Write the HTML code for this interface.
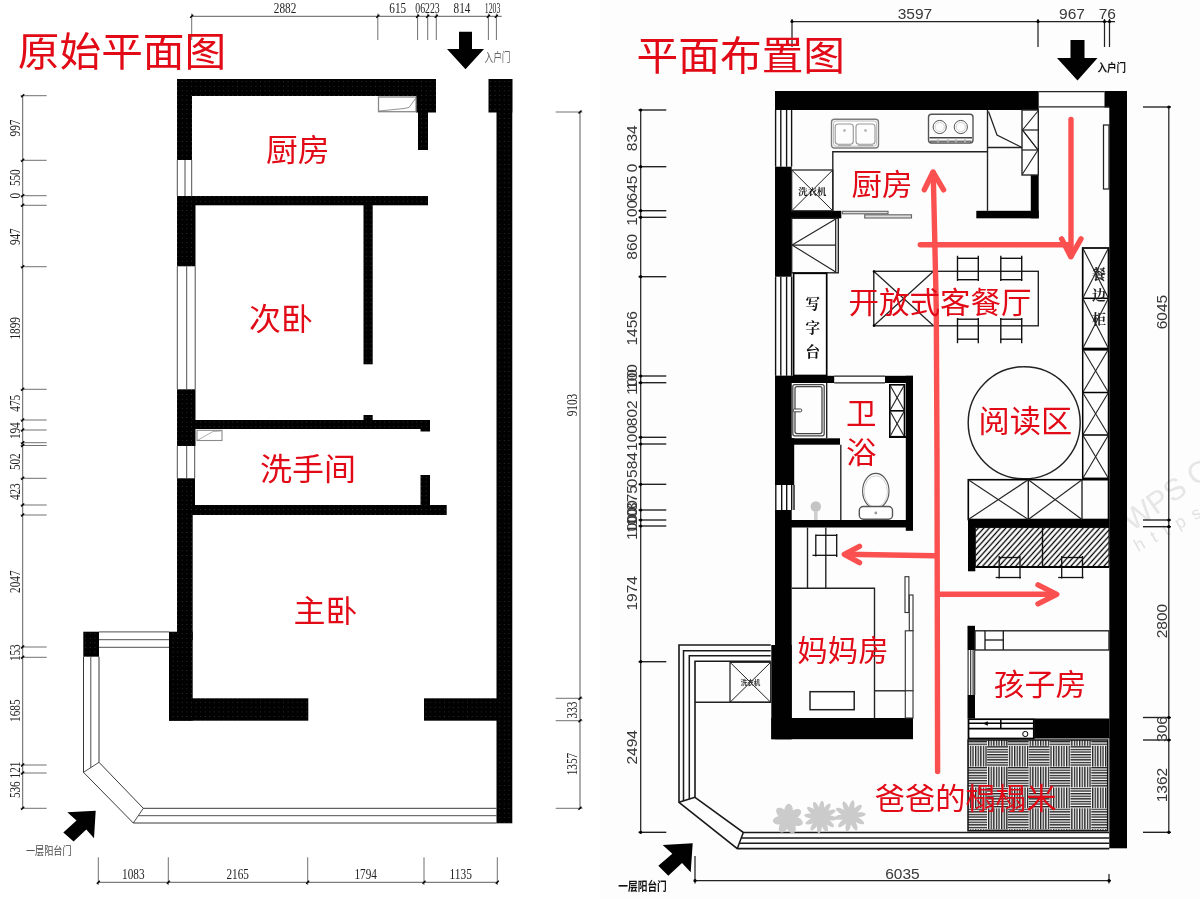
<!DOCTYPE html>
<html lang="zh-CN">
<head>
<meta charset="utf-8">
<title>原始平面图 / 平面布置图</title>
<style>
html,body{margin:0;padding:0;background:#fff;}
body{width:1200px;height:899px;overflow:hidden;}
svg{display:block;}
text{font-family:"Liberation Sans","Noto Sans CJK SC",sans-serif;}
.cn{font-family:"Liberation Sans","Noto Sans CJK SC",sans-serif;}
.sf{font-family:"Liberation Serif","Noto Serif CJK SC",serif;}
.kb{font-family:"Liberation Serif","Noto Serif CJK SC",serif;font-weight:700;}
.sb{font-family:"Liberation Sans","Noto Sans CJK SC",sans-serif;font-weight:700;}
</style>
</head>
<body>
<svg width="1200" height="899" viewBox="0 0 1200 899">
<defs>
<pattern id="hatch" patternUnits="userSpaceOnUse" width="4.1" height="4.1" patternTransform="rotate(42)">
<rect width="4.1" height="4.1" fill="#fff"/><line x1="2.05" y1="-1" x2="2.05" y2="5.1" stroke="#000" stroke-width="1.3"/>
</pattern>
<pattern id="wd" patternUnits="userSpaceOnUse" width="4.6" height="4.6" x="0.6" y="1.2"><rect width="4.6" height="4.6" fill="#000"/><circle cx="2.3" cy="2.3" r="0.55" fill="#3a3a3a"/></pattern>
<pattern id="vs" patternUnits="userSpaceOnUse" width="2.6" height="2.6">
<rect width="2.6" height="2.6" fill="#fff"/><rect width="1.35" height="2.6" fill="#222"/>
</pattern>
<pattern id="hs" patternUnits="userSpaceOnUse" width="2.6" height="2.6">
<rect width="2.6" height="2.6" fill="#fff"/><rect width="2.6" height="1.35" fill="#222"/>
</pattern>
</defs>
<rect width="1200" height="899" fill="#fff"/>
<g opacity="0.999">

<g id="left-plan">
<rect x="177.0" y="79.0" width="259.0" height="17.0" fill="url(#wd)" />
<rect x="177.0" y="79.0" width="15.0" height="81.0" fill="url(#wd)" />
<rect x="416.0" y="79.0" width="20.0" height="33.5" fill="url(#wd)" />
<rect x="418.0" y="112.0" width="10.0" height="38.0" fill="url(#wd)" />
<rect x="488.5" y="79.0" width="23.8" height="33.5" fill="url(#wd)" />
<rect x="496.5" y="79.0" width="15.8" height="744.3" fill="url(#wd)" />
<rect x="177.0" y="196.0" width="251.0" height="9.3" fill="url(#wd)" />
<rect x="177.0" y="196.0" width="18.5" height="70.3" fill="url(#wd)" />
<rect x="363.5" y="205.0" width="9.2" height="159.3" fill="url(#wd)" />
<rect x="177.0" y="389.3" width="18.5" height="56.7" fill="url(#wd)" />
<rect x="195.0" y="420.0" width="235.0" height="9.0" fill="url(#wd)" />
<rect x="363.5" y="415.0" width="9.2" height="6.0" fill="url(#wd)" />
<rect x="420.5" y="428.0" width="9.5" height="3.5" fill="url(#wd)" />
<rect x="177.0" y="478.3" width="18.0" height="36.7" fill="url(#wd)" />
<rect x="177.0" y="515.0" width="15.7" height="125.0" fill="url(#wd)" />
<rect x="420.5" y="475.0" width="9.5" height="31.0" fill="url(#wd)" />
<rect x="192.0" y="505.0" width="254.7" height="10.0" fill="url(#wd)" />
<rect x="169.0" y="631.7" width="23.7" height="89.0" fill="url(#wd)" />
<rect x="169.0" y="698.3" width="139.3" height="22.4" fill="url(#wd)" />
<rect x="424.0" y="698.3" width="73.0" height="22.4" fill="url(#wd)" />
<rect x="83.3" y="631.7" width="15.7" height="25.0" fill="url(#wd)" />
<line x1="177.3" y1="160.0" x2="177.3" y2="196.0" stroke="#222" stroke-width="0.8" />
<line x1="185.0" y1="160.0" x2="185.0" y2="196.0" stroke="#222" stroke-width="0.8" />
<line x1="191.7" y1="160.0" x2="191.7" y2="196.0" stroke="#222" stroke-width="0.8" />
<line x1="177.3" y1="266.3" x2="177.3" y2="389.3" stroke="#222" stroke-width="0.8" />
<line x1="186.7" y1="266.3" x2="186.7" y2="389.3" stroke="#222" stroke-width="0.8" />
<line x1="195.2" y1="266.3" x2="195.2" y2="389.3" stroke="#222" stroke-width="0.8" />
<line x1="177.3" y1="446.0" x2="177.3" y2="478.3" stroke="#222" stroke-width="0.8" />
<line x1="186.7" y1="446.0" x2="186.7" y2="478.3" stroke="#222" stroke-width="0.8" />
<line x1="194.7" y1="446.0" x2="194.7" y2="478.3" stroke="#222" stroke-width="0.8" />
<rect x="378.5" y="97.0" width="37.5" height="14.7" fill="none" stroke="#8a8a8a" stroke-width="1.3" />
<path d="M379 111 L404 108.5 L409 107.5 L415.5 98.5" fill="none" stroke="#666" stroke-width="0.7" />
<rect x="197.0" y="430.3" width="25.0" height="10.2" fill="none" stroke="#8a8a8a" stroke-width="1.1" />
<path d="M198 440 L213 431.5 L221 431" fill="none" stroke="#777" stroke-width="0.6" />
<line x1="99.0" y1="631.9" x2="169.0" y2="631.9" stroke="#222" stroke-width="0.8" />
<line x1="99.0" y1="639.7" x2="169.0" y2="639.7" stroke="#222" stroke-width="0.8" />
<line x1="99.0" y1="647.3" x2="169.0" y2="647.3" stroke="#222" stroke-width="0.8" />
<path d="M83.5 656.7 L83.5 772.3 L133.3 823 L496.5 823" fill="none" stroke="#222" stroke-width="0.9" />
<line x1="90.8" y1="656.7" x2="90.8" y2="767.5" stroke="#222" stroke-width="0.8" />
<line x1="138.5" y1="815.7" x2="496.5" y2="815.7" stroke="#222" stroke-width="0.8" />
<path d="M99 656.7 L99 762.3 L143.3 808.3 L496.5 808.3" fill="none" stroke="#222" stroke-width="0.9" />
<line x1="83.5" y1="772.3" x2="99.0" y2="762.3" stroke="#222" stroke-width="0.8" />
<line x1="133.3" y1="823.0" x2="143.3" y2="808.3" stroke="#222" stroke-width="0.8" />
<line x1="191.7" y1="16.3" x2="501.7" y2="16.3" stroke="#333" stroke-width="0.8" />
<line x1="191.7" y1="13.5" x2="191.7" y2="40.0" stroke="#333" stroke-width="0.7" />
<line x1="190.2" y1="17.8" x2="193.2" y2="14.8" stroke="#000" stroke-width="1.4" />
<line x1="377.8" y1="13.5" x2="377.8" y2="40.0" stroke="#333" stroke-width="0.7" />
<line x1="376.3" y1="17.8" x2="379.3" y2="14.8" stroke="#000" stroke-width="1.4" />
<line x1="417.6" y1="13.5" x2="417.6" y2="40.0" stroke="#333" stroke-width="0.7" />
<line x1="416.1" y1="17.8" x2="419.1" y2="14.8" stroke="#000" stroke-width="1.4" />
<line x1="427.7" y1="13.5" x2="427.7" y2="40.0" stroke="#333" stroke-width="0.7" />
<line x1="426.2" y1="17.8" x2="429.2" y2="14.8" stroke="#000" stroke-width="1.4" />
<line x1="436.3" y1="13.5" x2="436.3" y2="40.0" stroke="#333" stroke-width="0.7" />
<line x1="434.8" y1="17.8" x2="437.8" y2="14.8" stroke="#000" stroke-width="1.4" />
<line x1="488.4" y1="13.5" x2="488.4" y2="40.0" stroke="#333" stroke-width="0.7" />
<line x1="486.9" y1="17.8" x2="489.9" y2="14.8" stroke="#000" stroke-width="1.4" />
<line x1="496.4" y1="13.5" x2="496.4" y2="40.0" stroke="#333" stroke-width="0.7" />
<line x1="494.9" y1="17.8" x2="497.9" y2="14.8" stroke="#000" stroke-width="1.4" />
<text x="285.0" y="13.0" font-size="15.5" fill="#222" text-anchor="middle" class="sf" textLength="22.5" lengthAdjust="spacingAndGlyphs">2882</text>
<text x="397.7" y="13.0" font-size="15.5" fill="#222" text-anchor="middle" class="sf" textLength="16.8" lengthAdjust="spacingAndGlyphs">615</text>
<text x="427.5" y="13.0" font-size="15.5" fill="#222" text-anchor="middle" class="sf" textLength="24.5" lengthAdjust="spacingAndGlyphs">06223</text>
<text x="462.0" y="13.0" font-size="15.5" fill="#222" text-anchor="middle" class="sf" textLength="16.8" lengthAdjust="spacingAndGlyphs">814</text>
<text x="492.5" y="13.0" font-size="15.5" fill="#222" text-anchor="middle" class="sf" textLength="15.5" lengthAdjust="spacingAndGlyphs">1203</text>
<line x1="22.7" y1="95.7" x2="22.7" y2="808.3" stroke="#333" stroke-width="0.8" />
<line x1="20.5" y1="95.7" x2="46.7" y2="95.7" stroke="#333" stroke-width="0.7" />
<line x1="21.2" y1="97.2" x2="24.2" y2="94.2" stroke="#000" stroke-width="1.4" />
<line x1="20.5" y1="160.3" x2="46.7" y2="160.3" stroke="#333" stroke-width="0.7" />
<line x1="21.2" y1="161.8" x2="24.2" y2="158.8" stroke="#000" stroke-width="1.4" />
<line x1="20.5" y1="195.7" x2="46.7" y2="195.7" stroke="#333" stroke-width="0.7" />
<line x1="21.2" y1="197.2" x2="24.2" y2="194.2" stroke="#000" stroke-width="1.4" />
<line x1="20.5" y1="205.3" x2="46.7" y2="205.3" stroke="#333" stroke-width="0.7" />
<line x1="21.2" y1="206.8" x2="24.2" y2="203.8" stroke="#000" stroke-width="1.4" />
<line x1="20.5" y1="266.7" x2="46.7" y2="266.7" stroke="#333" stroke-width="0.7" />
<line x1="21.2" y1="268.2" x2="24.2" y2="265.2" stroke="#000" stroke-width="1.4" />
<line x1="20.5" y1="389.3" x2="46.7" y2="389.3" stroke="#333" stroke-width="0.7" />
<line x1="21.2" y1="390.8" x2="24.2" y2="387.8" stroke="#000" stroke-width="1.4" />
<line x1="20.5" y1="420.0" x2="46.7" y2="420.0" stroke="#333" stroke-width="0.7" />
<line x1="21.2" y1="421.5" x2="24.2" y2="418.5" stroke="#000" stroke-width="1.4" />
<line x1="20.5" y1="430.0" x2="46.7" y2="430.0" stroke="#333" stroke-width="0.7" />
<line x1="21.2" y1="431.5" x2="24.2" y2="428.5" stroke="#000" stroke-width="1.4" />
<line x1="20.5" y1="442.7" x2="46.7" y2="442.7" stroke="#333" stroke-width="0.7" />
<line x1="21.2" y1="444.2" x2="24.2" y2="441.2" stroke="#000" stroke-width="1.4" />
<line x1="20.5" y1="445.5" x2="46.7" y2="445.5" stroke="#333" stroke-width="0.7" />
<line x1="21.2" y1="447.0" x2="24.2" y2="444.0" stroke="#000" stroke-width="1.4" />
<line x1="20.5" y1="478.3" x2="46.7" y2="478.3" stroke="#333" stroke-width="0.7" />
<line x1="21.2" y1="479.8" x2="24.2" y2="476.8" stroke="#000" stroke-width="1.4" />
<line x1="20.5" y1="505.0" x2="46.7" y2="505.0" stroke="#333" stroke-width="0.7" />
<line x1="21.2" y1="506.5" x2="24.2" y2="503.5" stroke="#000" stroke-width="1.4" />
<line x1="20.5" y1="515.0" x2="46.7" y2="515.0" stroke="#333" stroke-width="0.7" />
<line x1="21.2" y1="516.5" x2="24.2" y2="513.5" stroke="#000" stroke-width="1.4" />
<line x1="20.5" y1="647.0" x2="46.7" y2="647.0" stroke="#333" stroke-width="0.7" />
<line x1="21.2" y1="648.5" x2="24.2" y2="645.5" stroke="#000" stroke-width="1.4" />
<line x1="20.5" y1="657.3" x2="46.7" y2="657.3" stroke="#333" stroke-width="0.7" />
<line x1="21.2" y1="658.8" x2="24.2" y2="655.8" stroke="#000" stroke-width="1.4" />
<line x1="20.5" y1="765.0" x2="46.7" y2="765.0" stroke="#333" stroke-width="0.7" />
<line x1="21.2" y1="766.5" x2="24.2" y2="763.5" stroke="#000" stroke-width="1.4" />
<line x1="20.5" y1="773.0" x2="46.7" y2="773.0" stroke="#333" stroke-width="0.7" />
<line x1="21.2" y1="774.5" x2="24.2" y2="771.5" stroke="#000" stroke-width="1.4" />
<line x1="20.5" y1="808.3" x2="46.7" y2="808.3" stroke="#333" stroke-width="0.7" />
<line x1="21.2" y1="809.8" x2="24.2" y2="806.8" stroke="#000" stroke-width="1.4" />
<text x="19.8" y="128.0" font-size="15.5" fill="#222" text-anchor="middle" class="sf" transform="rotate(-90 19.8 128.0)" textLength="16.8" lengthAdjust="spacingAndGlyphs">997</text>
<text x="19.8" y="177.7" font-size="15.5" fill="#222" text-anchor="middle" class="sf" transform="rotate(-90 19.8 177.7)" textLength="16.8" lengthAdjust="spacingAndGlyphs">550</text>
<text x="19.8" y="195.7" font-size="15.5" fill="#222" text-anchor="middle" class="sf" transform="rotate(-90 19.8 195.7)" textLength="5.6" lengthAdjust="spacingAndGlyphs">0</text>
<text x="19.8" y="236.7" font-size="15.5" fill="#222" text-anchor="middle" class="sf" transform="rotate(-90 19.8 236.7)" textLength="16.8" lengthAdjust="spacingAndGlyphs">947</text>
<text x="19.8" y="328.3" font-size="15.5" fill="#222" text-anchor="middle" class="sf" transform="rotate(-90 19.8 328.3)" textLength="22.4" lengthAdjust="spacingAndGlyphs">1899</text>
<text x="19.8" y="403.3" font-size="15.5" fill="#222" text-anchor="middle" class="sf" transform="rotate(-90 19.8 403.3)" textLength="16.8" lengthAdjust="spacingAndGlyphs">475</text>
<text x="19.8" y="430.7" font-size="15.5" fill="#222" text-anchor="middle" class="sf" transform="rotate(-90 19.8 430.7)" textLength="16.8" lengthAdjust="spacingAndGlyphs">194</text>
<text x="19.8" y="461.7" font-size="15.5" fill="#222" text-anchor="middle" class="sf" transform="rotate(-90 19.8 461.7)" textLength="16.8" lengthAdjust="spacingAndGlyphs">502</text>
<text x="19.8" y="491.7" font-size="15.5" fill="#222" text-anchor="middle" class="sf" transform="rotate(-90 19.8 491.7)" textLength="16.8" lengthAdjust="spacingAndGlyphs">423</text>
<text x="19.8" y="581.7" font-size="15.5" fill="#222" text-anchor="middle" class="sf" transform="rotate(-90 19.8 581.7)" textLength="22.4" lengthAdjust="spacingAndGlyphs">2047</text>
<text x="19.8" y="652.7" font-size="15.5" fill="#222" text-anchor="middle" class="sf" transform="rotate(-90 19.8 652.7)" textLength="16.8" lengthAdjust="spacingAndGlyphs">153</text>
<text x="19.8" y="710.7" font-size="15.5" fill="#222" text-anchor="middle" class="sf" transform="rotate(-90 19.8 710.7)" textLength="22.4" lengthAdjust="spacingAndGlyphs">1685</text>
<text x="19.8" y="770.0" font-size="15.5" fill="#222" text-anchor="middle" class="sf" transform="rotate(-90 19.8 770.0)" textLength="16.8" lengthAdjust="spacingAndGlyphs">121</text>
<text x="19.8" y="789.7" font-size="15.5" fill="#222" text-anchor="middle" class="sf" transform="rotate(-90 19.8 789.7)" textLength="16.8" lengthAdjust="spacingAndGlyphs">536</text>
<line x1="98.3" y1="882.3" x2="497.3" y2="882.3" stroke="#333" stroke-width="0.8" />
<line x1="98.3" y1="857.3" x2="98.3" y2="885.0" stroke="#333" stroke-width="0.7" />
<line x1="96.8" y1="883.8" x2="99.8" y2="880.8" stroke="#000" stroke-width="1.4" />
<line x1="168.3" y1="857.3" x2="168.3" y2="885.0" stroke="#333" stroke-width="0.7" />
<line x1="166.8" y1="883.8" x2="169.8" y2="880.8" stroke="#000" stroke-width="1.4" />
<line x1="307.7" y1="857.3" x2="307.7" y2="885.0" stroke="#333" stroke-width="0.7" />
<line x1="306.2" y1="883.8" x2="309.2" y2="880.8" stroke="#000" stroke-width="1.4" />
<line x1="424.0" y1="857.3" x2="424.0" y2="885.0" stroke="#333" stroke-width="0.7" />
<line x1="422.5" y1="883.8" x2="425.5" y2="880.8" stroke="#000" stroke-width="1.4" />
<line x1="497.3" y1="857.3" x2="497.3" y2="885.0" stroke="#333" stroke-width="0.7" />
<line x1="495.8" y1="883.8" x2="498.8" y2="880.8" stroke="#000" stroke-width="1.4" />
<text x="133.3" y="879.3" font-size="15.5" fill="#222" text-anchor="middle" class="sf" textLength="22.5" lengthAdjust="spacingAndGlyphs">1083</text>
<text x="237.7" y="879.3" font-size="15.5" fill="#222" text-anchor="middle" class="sf" textLength="22.5" lengthAdjust="spacingAndGlyphs">2165</text>
<text x="365.7" y="879.3" font-size="15.5" fill="#222" text-anchor="middle" class="sf" textLength="22.5" lengthAdjust="spacingAndGlyphs">1794</text>
<text x="460.7" y="879.3" font-size="15.5" fill="#222" text-anchor="middle" class="sf" textLength="22.5" lengthAdjust="spacingAndGlyphs">1135</text>
<line x1="580.0" y1="112.0" x2="580.0" y2="808.3" stroke="#333" stroke-width="0.8" />
<line x1="555.7" y1="112.0" x2="582.5" y2="112.0" stroke="#333" stroke-width="0.7" />
<line x1="578.5" y1="113.5" x2="581.5" y2="110.5" stroke="#000" stroke-width="1.4" />
<line x1="555.7" y1="698.3" x2="582.5" y2="698.3" stroke="#333" stroke-width="0.7" />
<line x1="578.5" y1="699.8" x2="581.5" y2="696.8" stroke="#000" stroke-width="1.4" />
<line x1="555.7" y1="720.7" x2="582.5" y2="720.7" stroke="#333" stroke-width="0.7" />
<line x1="578.5" y1="722.2" x2="581.5" y2="719.2" stroke="#000" stroke-width="1.4" />
<line x1="555.7" y1="808.3" x2="582.5" y2="808.3" stroke="#333" stroke-width="0.7" />
<line x1="578.5" y1="809.8" x2="581.5" y2="806.8" stroke="#000" stroke-width="1.4" />
<text x="577.0" y="405.0" font-size="15.5" fill="#222" text-anchor="middle" class="sf" transform="rotate(-90 577.0 405.0)" textLength="22.5" lengthAdjust="spacingAndGlyphs">9103</text>
<text x="577.0" y="710.0" font-size="15.5" fill="#222" text-anchor="middle" class="sf" transform="rotate(-90 577.0 710.0)" textLength="16.8" lengthAdjust="spacingAndGlyphs">333</text>
<text x="577.0" y="764.0" font-size="15.5" fill="#222" text-anchor="middle" class="sf" transform="rotate(-90 577.0 764.0)" textLength="22.5" lengthAdjust="spacingAndGlyphs">1357</text>
<path d="M459 31.7 H472 V49 H484 L465.5 69.3 L447 49 H459 Z" fill="#000" stroke="none" stroke-width="0" />
<text x="484.5" y="61.6" font-size="12.5" fill="#666" text-anchor="start" class="cn" textLength="26" lengthAdjust="spacingAndGlyphs">入户门</text>
<path d="M95.7 810.7 L67.3 812.3 L76.5 820.6 L63.3 832.5 L73.6 841.6 L86.3 829.5 L94 838.3 Z" fill="#000" stroke="none" stroke-width="0" />
<text x="26.0" y="855.0" font-size="10.8" fill="#444" text-anchor="start" class="cn" textLength="45.5" lengthAdjust="spacingAndGlyphs">一层阳台门</text>
<text x="122.0" y="66.2" font-size="40.27" fill="#e10a16" text-anchor="middle" class="cn" textLength="208.4" lengthAdjust="spacingAndGlyphs">原始平面图</text>
<text x="297.8" y="160.9" font-size="30.71" fill="#e10a16" text-anchor="middle" class="cn" textLength="63.6" lengthAdjust="spacingAndGlyphs">厨房</text>
<text x="281.0" y="330.3" font-size="30.91" fill="#e10a16" text-anchor="middle" class="cn" textLength="64.0" lengthAdjust="spacingAndGlyphs">次卧</text>
<text x="308.0" y="480.3" font-size="30.91" fill="#e10a16" text-anchor="middle" class="cn" textLength="96.0" lengthAdjust="spacingAndGlyphs">洗手间</text>
<text x="325.5" y="622.0" font-size="30.91" fill="#e10a16" text-anchor="middle" class="cn" textLength="64.0" lengthAdjust="spacingAndGlyphs">主卧</text>
</g>
<g id="right-plan">
<rect x="600.0" y="0.0" width="600.0" height="899.0" fill="#fdfdfd" />
<text x="1132.0" y="532.0" font-size="30.5" fill="#e6e6e6" text-anchor="start" transform="rotate(-35 1132.0 532.0)" >WPS O</text>
<text x="1138.0" y="552.0" font-size="17.5" fill="#e2e2e2" text-anchor="start" transform="rotate(-29 1138.0 552.0)" letter-spacing="9">https</text>
<g>
<rect x="968.0" y="740.0" width="19.1" height="5.9" fill="url(#hs)" />
<rect x="987.1" y="740.0" width="20.9" height="5.9" fill="url(#vs)" />
<rect x="1007.9" y="740.0" width="20.8" height="5.9" fill="url(#hs)" />
<rect x="1028.8" y="740.0" width="20.9" height="5.9" fill="url(#vs)" />
<rect x="1049.6" y="740.0" width="20.8" height="5.9" fill="url(#hs)" />
<rect x="1070.5" y="740.0" width="20.8" height="5.9" fill="url(#vs)" />
<rect x="1091.3" y="740.0" width="16.4" height="5.9" fill="url(#hs)" />
<rect x="968.0" y="745.9" width="19.1" height="20.9" fill="url(#vs)" />
<rect x="987.1" y="745.9" width="20.9" height="20.9" fill="url(#hs)" />
<rect x="1007.9" y="745.9" width="20.8" height="20.9" fill="url(#vs)" />
<rect x="1028.8" y="745.9" width="20.9" height="20.9" fill="url(#hs)" />
<rect x="1049.6" y="745.9" width="20.8" height="20.9" fill="url(#vs)" />
<rect x="1070.5" y="745.9" width="20.8" height="20.9" fill="url(#hs)" />
<rect x="1091.3" y="745.9" width="16.4" height="20.9" fill="url(#vs)" />
<rect x="968.0" y="766.7" width="19.1" height="20.8" fill="url(#hs)" />
<rect x="987.1" y="766.7" width="20.9" height="20.8" fill="url(#vs)" />
<rect x="1007.9" y="766.7" width="20.8" height="20.8" fill="url(#hs)" />
<rect x="1028.8" y="766.7" width="20.9" height="20.8" fill="url(#vs)" />
<rect x="1049.6" y="766.7" width="20.8" height="20.8" fill="url(#hs)" />
<rect x="1070.5" y="766.7" width="20.8" height="20.8" fill="url(#vs)" />
<rect x="1091.3" y="766.7" width="16.4" height="20.8" fill="url(#hs)" />
<rect x="968.0" y="787.5" width="19.1" height="20.9" fill="url(#vs)" />
<rect x="987.1" y="787.5" width="20.9" height="20.9" fill="url(#hs)" />
<rect x="1007.9" y="787.5" width="20.8" height="20.9" fill="url(#vs)" />
<rect x="1028.8" y="787.5" width="20.9" height="20.9" fill="url(#hs)" />
<rect x="1049.6" y="787.5" width="20.8" height="20.9" fill="url(#vs)" />
<rect x="1070.5" y="787.5" width="20.8" height="20.9" fill="url(#hs)" />
<rect x="1091.3" y="787.5" width="16.4" height="20.9" fill="url(#vs)" />
<rect x="968.0" y="808.4" width="19.1" height="20.9" fill="url(#hs)" />
<rect x="987.1" y="808.4" width="20.9" height="20.9" fill="url(#vs)" />
<rect x="1007.9" y="808.4" width="20.8" height="20.9" fill="url(#hs)" />
<rect x="1028.8" y="808.4" width="20.9" height="20.9" fill="url(#vs)" />
<rect x="1049.6" y="808.4" width="20.8" height="20.9" fill="url(#hs)" />
<rect x="1070.5" y="808.4" width="20.8" height="20.9" fill="url(#vs)" />
<rect x="1091.3" y="808.4" width="16.4" height="20.9" fill="url(#hs)" />
<rect x="968.0" y="829.2" width="19.1" height="1.5" fill="url(#vs)" />
<rect x="987.1" y="829.2" width="20.9" height="1.5" fill="url(#hs)" />
<rect x="1007.9" y="829.2" width="20.8" height="1.5" fill="url(#vs)" />
<rect x="1028.8" y="829.2" width="20.9" height="1.5" fill="url(#hs)" />
<rect x="1049.6" y="829.2" width="20.8" height="1.5" fill="url(#vs)" />
<rect x="1070.5" y="829.2" width="20.8" height="1.5" fill="url(#hs)" />
<rect x="1091.3" y="829.2" width="16.4" height="1.5" fill="url(#vs)" />
<rect x="968.0" y="740.0" width="139.7" height="90.8" fill="none" stroke="#111" stroke-width="1.5" />
</g>
<rect x="775.0" y="91.0" width="263.7" height="19.0" fill="#000" />
<rect x="1104.5" y="91.0" width="22.5" height="16.5" fill="#000" />
<rect x="1109.3" y="91.0" width="17.7" height="757.3" fill="#000" />
<rect x="775.0" y="166.7" width="16.7" height="110.0" fill="#000" />
<rect x="791.0" y="210.8" width="50.3" height="7.5" fill="#000" />
<rect x="1030.8" y="175.0" width="7.9" height="43.3" fill="#000" />
<rect x="976.3" y="210.8" width="62.4" height="7.5" fill="#000" />
<rect x="775.0" y="375.8" width="59.2" height="7.2" fill="#000" />
<rect x="885.0" y="375.8" width="28.0" height="7.2" fill="#000" />
<rect x="905.8" y="375.8" width="7.2" height="155.0" fill="#000" />
<rect x="775.0" y="375.8" width="16.7" height="109.2" fill="#000" />
<rect x="775.0" y="438.3" width="19.2" height="46.7" fill="#000" />
<rect x="791.0" y="438.3" width="49.0" height="6.4" fill="#000" />
<rect x="775.0" y="510.0" width="16.7" height="229.2" fill="#000" />
<rect x="771.3" y="645.0" width="20.4" height="94.2" fill="#000" />
<rect x="791.0" y="520.0" width="122.0" height="7.5" fill="#000" />
<rect x="771.3" y="718.0" width="141.7" height="21.2" fill="#000" />
<rect x="968.0" y="519.2" width="141.5" height="8.3" fill="#000" />
<rect x="968.0" y="519.2" width="7.3" height="52.1" fill="#000" />
<rect x="967.5" y="625.8" width="7.5" height="24.2" fill="#000" />
<rect x="967.5" y="695.0" width="7.5" height="23.5" fill="#000" />
<rect x="1034.2" y="718.5" width="75.3" height="20.0" fill="#000" />
<line x1="1038.7" y1="91.5" x2="1104.5" y2="91.5" stroke="#222" stroke-width="1.25" />
<line x1="1038.7" y1="106.8" x2="1109.3" y2="106.8" stroke="#222" stroke-width="1.25" />
<rect x="1103.5" y="125.0" width="5.5" height="64.0" fill="#fff" stroke="#222" stroke-width="1.25" />
<line x1="775.6" y1="110.0" x2="775.6" y2="166.7" stroke="#111" stroke-width="1.38" />
<line x1="780.8" y1="110.0" x2="780.8" y2="166.7" stroke="#111" stroke-width="1.38" />
<line x1="786.6" y1="110.0" x2="786.6" y2="166.7" stroke="#111" stroke-width="1.38" />
<line x1="791.6" y1="110.0" x2="791.6" y2="166.7" stroke="#111" stroke-width="1.38" />
<line x1="775.6" y1="276.7" x2="775.6" y2="375.8" stroke="#111" stroke-width="1.38" />
<line x1="780.8" y1="276.7" x2="780.8" y2="375.8" stroke="#111" stroke-width="1.38" />
<line x1="786.6" y1="276.7" x2="786.6" y2="375.8" stroke="#111" stroke-width="1.38" />
<line x1="791.6" y1="276.7" x2="791.6" y2="375.8" stroke="#111" stroke-width="1.38" />
<rect x="775.0" y="485.0" width="19.2" height="25.0" fill="#fff" />
<line x1="775.8" y1="485.0" x2="775.8" y2="510.0" stroke="#111" stroke-width="1.38" />
<line x1="781.7" y1="485.0" x2="781.7" y2="510.0" stroke="#111" stroke-width="1.38" />
<line x1="786.7" y1="485.0" x2="786.7" y2="510.0" stroke="#111" stroke-width="1.38" />
<line x1="791.7" y1="485.0" x2="791.7" y2="510.0" stroke="#111" stroke-width="1.38" />
<line x1="794.0" y1="485.0" x2="794.0" y2="510.0" stroke="#111" stroke-width="1.38" />
<path d="M1 0" fill="none" stroke="#000" stroke-width="0" />
<path d="M832.8 210.8 V151.7 H987.5" fill="none" stroke="#222" stroke-width="1.38" />
<line x1="987.5" y1="110.0" x2="987.5" y2="210.8" stroke="#222" stroke-width="1.38" />
<line x1="987.5" y1="147.5" x2="1022.0" y2="147.5" stroke="#222" stroke-width="1.38" />
<path d="M988.5 111.5 L997 135 L1022 147.5" fill="none" stroke="#222" stroke-width="1.25" />
<rect x="1022.0" y="110.0" width="16.3" height="65.0" fill="none" stroke="#222" stroke-width="1.38" />
<line x1="1022.0" y1="130.0" x2="1038.3" y2="130.0" stroke="#222" stroke-width="1.25" />
<line x1="1022.0" y1="150.0" x2="1038.3" y2="150.0" stroke="#222" stroke-width="1.25" />
<path d="M1038 111 L1022.5 130 L1038 150" fill="none" stroke="#222" stroke-width="1.12" />
<path d="M1022.5 130 L1038 150 L1022.5 174" fill="none" stroke="#222" stroke-width="1.12" />
<rect x="831.5" y="119.3" width="47.0" height="28.7" fill="none" stroke="#7d7d7d" stroke-width="1.38" rx="3"/>
<rect x="833.5" y="121.0" width="43.0" height="25.2" fill="none" stroke="#aaa" stroke-width="0.75" rx="2.5"/>
<rect x="835.2" y="124.0" width="18.1" height="20.3" fill="none" stroke="#999" stroke-width="1.12" rx="3"/>
<rect x="856.0" y="124.0" width="19.0" height="20.3" fill="none" stroke="#999" stroke-width="1.12" rx="3"/>
<circle cx="844.5" cy="130.5" r="1.3" fill="#aaa"/><circle cx="865.5" cy="130.5" r="1.3" fill="#aaa"/>
<line x1="838.0" y1="145.3" x2="851.0" y2="145.3" stroke="#aaa" stroke-width="1.25" />
<line x1="858.0" y1="145.3" x2="873.0" y2="145.3" stroke="#aaa" stroke-width="1.25" />
<rect x="928.5" y="114.2" width="44.5" height="28.8" fill="none" stroke="#555" stroke-width="1.38" rx="3"/>
<circle cx="939.7" cy="127" r="6.6" fill="none" stroke="#555" stroke-width="1"/>
<circle cx="960.8" cy="127" r="6.6" fill="none" stroke="#555" stroke-width="1"/>
<circle cx="939.7" cy="127" r="4.6" fill="none" stroke="#bbb" stroke-width="0.6"/>
<circle cx="960.8" cy="127" r="4.6" fill="none" stroke="#bbb" stroke-width="0.6"/>
<line x1="929.5" y1="137.8" x2="972.0" y2="137.8" stroke="#444" stroke-width="1.5" />
<line x1="930.0" y1="141.3" x2="971.5" y2="141.3" stroke="#777" stroke-width="1.6" />
<line x1="938.0" y1="138.5" x2="938.0" y2="142.5" stroke="#bbb" stroke-width="1.5" />
<line x1="948.0" y1="138.5" x2="948.0" y2="142.5" stroke="#bbb" stroke-width="1.5" />
<line x1="956.0" y1="138.5" x2="956.0" y2="142.5" stroke="#bbb" stroke-width="1.5" />
<line x1="965.0" y1="138.5" x2="965.0" y2="142.5" stroke="#bbb" stroke-width="1.5" />
<rect x="791.7" y="170.0" width="41.1" height="40.8" fill="none" stroke="#222" stroke-width="1.25" />
<line x1="791.7" y1="170.0" x2="832.8" y2="210.8" stroke="#222" stroke-width="1.0" />
<line x1="791.7" y1="210.8" x2="832.8" y2="170.0" stroke="#222" stroke-width="1.0" />
<text x="812.3" y="194.5" font-size="9.5" fill="#111" text-anchor="middle" class="kb" textLength="28" lengthAdjust="spacingAndGlyphs">洗衣机</text>
<rect x="842.5" y="211.3" width="45.5" height="2.5" fill="#ddd" stroke="#666" stroke-width="1.12" />
<rect x="864.7" y="214.8" width="46.8" height="3.2" fill="#ddd" stroke="#666" stroke-width="1.12" />
<rect x="791.7" y="218.3" width="46.6" height="54.5" fill="none" stroke="#222" stroke-width="1.38" />
<line x1="835.7" y1="218.3" x2="835.7" y2="272.8" stroke="#222" stroke-width="1.25" />
<line x1="791.7" y1="245.0" x2="835.7" y2="245.0" stroke="#222" stroke-width="1.25" />
<path d="M835.7 219 L792 245 L835.7 272" fill="none" stroke="#222" stroke-width="1.12" />
<rect x="793.6" y="273.3" width="33.1" height="102.2" fill="#fff" stroke="#000" stroke-width="1.7" />
<text x="812.7" y="309.0" font-size="14.5" fill="#111" text-anchor="middle" class="kb" >写</text>
<text x="812.7" y="332.5" font-size="14.5" fill="#111" text-anchor="middle" class="kb" >字</text>
<text x="812.7" y="356.5" font-size="14.5" fill="#111" text-anchor="middle" class="kb" >台</text>
<rect x="873.8" y="271.3" width="164.5" height="54.5" fill="none" stroke="#222" stroke-width="1.38" />
<line x1="873.8" y1="271.3" x2="933.5" y2="325.8" stroke="#222" stroke-width="1.25" />
<line x1="873.8" y1="325.8" x2="933.5" y2="271.3" stroke="#222" stroke-width="1.25" />
<circle cx="874" cy="271.5" r="1.3"/><circle cx="874" cy="325.6" r="1.3"/>
<line x1="957.0" y1="258.3" x2="978.8" y2="258.3" stroke="#111" stroke-width="1.38" />
<line x1="957.0" y1="279.7" x2="978.8" y2="279.7" stroke="#111" stroke-width="1.38" />
<line x1="957.5" y1="255.8" x2="957.5" y2="280.9" stroke="#111" stroke-width="1.38" />
<line x1="978.3" y1="255.8" x2="978.3" y2="280.9" stroke="#111" stroke-width="1.38" />
<line x1="1000.3" y1="258.3" x2="1022.2" y2="258.3" stroke="#111" stroke-width="1.38" />
<line x1="1000.3" y1="279.7" x2="1022.2" y2="279.7" stroke="#111" stroke-width="1.38" />
<line x1="1000.8" y1="255.8" x2="1000.8" y2="280.9" stroke="#111" stroke-width="1.38" />
<line x1="1021.7" y1="255.8" x2="1021.7" y2="280.9" stroke="#111" stroke-width="1.38" />
<line x1="957.0" y1="319.2" x2="978.8" y2="319.2" stroke="#111" stroke-width="1.38" />
<line x1="957.0" y1="339.2" x2="978.8" y2="339.2" stroke="#111" stroke-width="1.38" />
<line x1="957.5" y1="318.0" x2="957.5" y2="343.2" stroke="#111" stroke-width="1.38" />
<line x1="978.3" y1="318.0" x2="978.3" y2="343.2" stroke="#111" stroke-width="1.38" />
<line x1="1000.3" y1="319.2" x2="1022.2" y2="319.2" stroke="#111" stroke-width="1.38" />
<line x1="1000.3" y1="339.2" x2="1022.2" y2="339.2" stroke="#111" stroke-width="1.38" />
<line x1="1000.8" y1="318.0" x2="1000.8" y2="343.2" stroke="#111" stroke-width="1.38" />
<line x1="1021.7" y1="318.0" x2="1021.7" y2="343.2" stroke="#111" stroke-width="1.38" />
<rect x="1082.7" y="248.0" width="25.8" height="100.5" fill="none" stroke="#000" stroke-width="1.7" />
<line x1="1082.7" y1="298.3" x2="1108.5" y2="298.3" stroke="#000" stroke-width="1.5" />
<line x1="1082.7" y1="248.0" x2="1108.5" y2="298.3" stroke="#222" stroke-width="1.12" />
<line x1="1082.7" y1="298.3" x2="1108.5" y2="248.0" stroke="#222" stroke-width="1.12" />
<line x1="1082.7" y1="298.3" x2="1108.5" y2="348.5" stroke="#222" stroke-width="1.12" />
<line x1="1082.7" y1="348.5" x2="1108.5" y2="298.3" stroke="#222" stroke-width="1.12" />
<text x="1099.0" y="279.0" font-size="14" fill="#222" text-anchor="middle" class="kb" >餐</text>
<text x="1099.0" y="300.0" font-size="14" fill="#222" text-anchor="middle" class="kb" >边</text>
<text x="1099.0" y="324.0" font-size="14" fill="#222" text-anchor="middle" class="kb" >柜</text>
<rect x="1082.7" y="349.3" width="25.8" height="129.2" fill="none" stroke="#000" stroke-width="1.5" />
<line x1="1082.0" y1="349.5" x2="1109.0" y2="349.5" stroke="#000" stroke-width="2.2" />
<line x1="1082.7" y1="349.3" x2="1108.5" y2="392.5" stroke="#222" stroke-width="1.12" />
<line x1="1082.7" y1="392.5" x2="1108.5" y2="349.3" stroke="#222" stroke-width="1.12" />
<line x1="1082.7" y1="392.5" x2="1108.5" y2="392.5" stroke="#000" stroke-width="1.5" />
<line x1="1082.7" y1="392.5" x2="1108.5" y2="435.0" stroke="#222" stroke-width="1.12" />
<line x1="1082.7" y1="435.0" x2="1108.5" y2="392.5" stroke="#222" stroke-width="1.12" />
<line x1="1082.7" y1="435.0" x2="1108.5" y2="435.0" stroke="#000" stroke-width="1.5" />
<line x1="1082.7" y1="435.0" x2="1108.5" y2="478.5" stroke="#222" stroke-width="1.12" />
<line x1="1082.7" y1="478.5" x2="1108.5" y2="435.0" stroke="#222" stroke-width="1.12" />
<line x1="1082.7" y1="478.5" x2="1108.5" y2="478.5" stroke="#000" stroke-width="1.5" />
<circle cx="1024.2" cy="422.8" r="56" fill="none" stroke="#222" stroke-width="1.45"/>
<rect x="968.3" y="479.7" width="140.2" height="39.8" fill="none" stroke="#000" stroke-width="1.6" />
<line x1="1028.3" y1="479.7" x2="1028.3" y2="519.5" stroke="#222" stroke-width="1.38" />
<line x1="1082.0" y1="479.7" x2="1082.0" y2="519.5" stroke="#222" stroke-width="1.38" />
<line x1="968.3" y1="479.7" x2="1028.3" y2="519.5" stroke="#222" stroke-width="1.12" />
<line x1="968.3" y1="519.5" x2="1028.3" y2="479.7" stroke="#222" stroke-width="1.12" />
<line x1="1028.3" y1="479.7" x2="1082.0" y2="519.5" stroke="#222" stroke-width="1.12" />
<line x1="1028.3" y1="519.5" x2="1082.0" y2="479.7" stroke="#222" stroke-width="1.12" />
<rect x="975.3" y="527.5" width="133.7" height="39.2" fill="url(#hatch)" />
<rect x="975.3" y="527.5" width="133.7" height="39.2" fill="none" stroke="#111" stroke-width="1.12" />
<line x1="975.3" y1="567.0" x2="1109.0" y2="567.0" stroke="#000" stroke-width="1.8" />
<line x1="1042.5" y1="527.5" x2="1042.5" y2="566.7" stroke="#111" stroke-width="1.38" />
<line x1="999.2" y1="557.5" x2="1020.0" y2="557.5" stroke="#111" stroke-width="1.31" />
<line x1="995.7" y1="577.5" x2="1021.0" y2="577.5" stroke="#111" stroke-width="1.31" />
<line x1="999.2" y1="556.0" x2="999.2" y2="578.5" stroke="#111" stroke-width="1.31" />
<line x1="1020.0" y1="556.0" x2="1020.0" y2="578.5" stroke="#111" stroke-width="1.31" />
<line x1="1061.7" y1="557.5" x2="1082.5" y2="557.5" stroke="#111" stroke-width="1.31" />
<line x1="1058.2" y1="577.5" x2="1083.5" y2="577.5" stroke="#111" stroke-width="1.31" />
<line x1="1061.7" y1="556.0" x2="1061.7" y2="578.5" stroke="#111" stroke-width="1.31" />
<line x1="1082.5" y1="556.0" x2="1082.5" y2="578.5" stroke="#111" stroke-width="1.31" />
<line x1="834.2" y1="376.2" x2="885.0" y2="376.2" stroke="#222" stroke-width="1.25" />
<line x1="834.2" y1="382.8" x2="885.0" y2="382.8" stroke="#222" stroke-width="1.25" />
<rect x="792.8" y="384.5" width="31.4" height="51.3" fill="none" stroke="#444" stroke-width="1.25" rx="2"/>
<rect x="795.0" y="386.7" width="27.0" height="46.9" fill="none" stroke="#444" stroke-width="1.25" rx="2"/>
<rect x="793.3" y="409.0" width="8.4" height="2.8" fill="#fff" stroke="#444" stroke-width="1.0" rx="1"/>
<line x1="826.7" y1="383.0" x2="826.7" y2="438.3" stroke="#222" stroke-width="1.38" />
<line x1="840.8" y1="444.7" x2="840.8" y2="520.0" stroke="#222" stroke-width="1.38" />
<rect x="889.8" y="384.8" width="14.7" height="51.9" fill="none" stroke="#000" stroke-width="1.6" />
<line x1="889.8" y1="410.8" x2="904.5" y2="410.8" stroke="#000" stroke-width="1.62" />
<line x1="889.8" y1="384.8" x2="904.5" y2="410.8" stroke="#222" stroke-width="1.12" />
<line x1="889.8" y1="410.8" x2="904.5" y2="384.8" stroke="#222" stroke-width="1.12" />
<line x1="889.8" y1="410.8" x2="904.5" y2="436.7" stroke="#222" stroke-width="1.12" />
<line x1="889.8" y1="436.7" x2="904.5" y2="410.8" stroke="#222" stroke-width="1.12" />
<rect x="889.0" y="436.0" width="17.0" height="2.0" fill="#000" />
<ellipse cx="875.8" cy="491" rx="13.2" ry="17.6" fill="#fff" stroke="#555" stroke-width="1.1"/>
<ellipse cx="875.8" cy="491.5" rx="11.6" ry="15.8" fill="none" stroke="#bbb" stroke-width="0.7"/>
<rect x="859.3" y="506.5" width="33.2" height="12.8" fill="#fff" stroke="#555" stroke-width="1.38" rx="4"/>
<circle cx="875.8" cy="513" r="1.4" fill="#999"/>
<circle cx="815.8" cy="506.5" r="5.2" fill="#c4c4c4"/><rect x="814" y="511" width="3.6" height="9" fill="#cfcfcf"/>
<line x1="807.5" y1="527.5" x2="807.5" y2="588.3" stroke="#222" stroke-width="1.38" />
<line x1="825.8" y1="527.5" x2="825.8" y2="588.3" stroke="#222" stroke-width="1.38" />
<path d="M791.7 588.3 H874.5 V718" fill="none" stroke="#222" stroke-width="1.38" />
<line x1="815.8" y1="535.3" x2="837.2" y2="535.3" stroke="#111" stroke-width="1.31" />
<line x1="812.5" y1="555.3" x2="837.2" y2="555.3" stroke="#111" stroke-width="1.31" />
<line x1="815.8" y1="534.5" x2="815.8" y2="556.5" stroke="#111" stroke-width="1.31" />
<line x1="836.7" y1="534.0" x2="836.7" y2="557.0" stroke="#111" stroke-width="1.31" />
<rect x="810.0" y="691.7" width="44.2" height="18.0" fill="#fff" stroke="#222" stroke-width="1.5" />
<path d="M874.5 690.8 H905.8" fill="none" stroke="#222" stroke-width="1.38" />
<rect x="905.0" y="576.7" width="3.9" height="35.8" fill="#fff" stroke="#333" stroke-width="1.12" />
<rect x="909.3" y="595.0" width="3.7" height="35.8" fill="#fff" stroke="#333" stroke-width="1.12" />
<rect x="905.3" y="630.8" width="7.7" height="60.0" fill="#fff" stroke="#333" stroke-width="1.12" />
<rect x="905.3" y="690.8" width="7.7" height="27.2" fill="#fff" stroke="#333" stroke-width="1.12" />
<rect x="975.0" y="630.8" width="134.0" height="19.2" fill="none" stroke="#222" stroke-width="1.38" />
<line x1="985.0" y1="630.8" x2="985.0" y2="650.0" stroke="#222" stroke-width="1.38" />
<line x1="1003.3" y1="630.8" x2="1003.3" y2="650.0" stroke="#222" stroke-width="1.38" />
<line x1="985.0" y1="640.0" x2="1003.3" y2="640.0" stroke="#222" stroke-width="1.38" />
<rect x="967.5" y="650.0" width="7.5" height="45.0" fill="#fff" />
<line x1="968.1" y1="650.0" x2="968.1" y2="695.0" stroke="#222" stroke-width="1.12" />
<line x1="970.7" y1="650.0" x2="970.7" y2="695.0" stroke="#222" stroke-width="1.12" />
<line x1="973.1" y1="650.0" x2="973.1" y2="695.0" stroke="#222" stroke-width="1.12" />
<line x1="974.7" y1="650.0" x2="974.7" y2="695.0" stroke="#222" stroke-width="1.12" />
<rect x="968.5" y="719.2" width="65.3" height="19.3" fill="#fff" stroke="#000" stroke-width="1.75" />
<line x1="968.5" y1="723.3" x2="1033.8" y2="723.3" stroke="#000" stroke-width="1.5" />
<line x1="968.5" y1="728.5" x2="1033.8" y2="728.5" stroke="#000" stroke-width="1.75" />
<line x1="1000.8" y1="719.2" x2="1000.8" y2="728.5" stroke="#000" stroke-width="1.5" />
<path d="M983 723.5 L987.8 721.3 V725.7 Z" fill="#000" stroke="none" stroke-width="0" />
<circle cx="1025.3" cy="734" r="2.6" fill="#fff" stroke="#000" stroke-width="1"/>
<rect x="730.0" y="662.3" width="40.7" height="40.0" fill="none" stroke="#222" stroke-width="1.25" />
<line x1="730.0" y1="662.3" x2="770.7" y2="702.3" stroke="#222" stroke-width="1.0" />
<line x1="730.0" y1="702.3" x2="770.7" y2="662.3" stroke="#222" stroke-width="1.0" />
<text x="750.5" y="685.0" font-size="6.5" fill="#333" text-anchor="middle" class="sb" >洗衣机</text>
<line x1="695.0" y1="702.3" x2="770.7" y2="702.3" stroke="#222" stroke-width="1.38" />
<path d="M770.7 645 H679 V802.3 L737.3 848.6 H1109.3" fill="none" stroke="#1a1a1a" stroke-width="1.62" />
<path d="M770.7 661.3 H695 V797.3 L743.3 832.5 H1109.3" fill="none" stroke="#1a1a1a" stroke-width="1.62" />
<path d="M770.7 650.7 H683.5 V800.9" fill="none" stroke="#1a1a1a" stroke-width="1.5" />
<path d="M770.7 655.7 H689.3 V799.2" fill="none" stroke="#1a1a1a" stroke-width="1.5" />
<line x1="739.3" y1="843.3" x2="1109.3" y2="843.3" stroke="#1a1a1a" stroke-width="1.62" />
<line x1="741.3" y1="838.0" x2="1109.3" y2="838.0" stroke="#1a1a1a" stroke-width="1.62" />
<line x1="679.0" y1="802.3" x2="695.0" y2="797.3" stroke="#1a1a1a" stroke-width="1.5" />
<line x1="737.3" y1="848.6" x2="743.3" y2="832.5" stroke="#1a1a1a" stroke-width="1.5" />
<g fill="#c6c6c6" opacity="0.9">
<ellipse cx="795.8" cy="821.4" rx="7.2" ry="4.3" transform="rotate(17 795.8 821.4)"/>
<ellipse cx="791.0" cy="826.6" rx="7.2" ry="4.3" transform="rotate(69 791.0 826.6)"/>
<ellipse cx="783.9" cy="826.0" rx="7.2" ry="4.3" transform="rotate(120 783.9 826.0)"/>
<ellipse cx="780.0" cy="820.2" rx="7.2" ry="4.3" transform="rotate(171 780.0 820.2)"/>
<ellipse cx="782.1" cy="813.5" rx="7.2" ry="4.3" transform="rotate(223 782.1 813.5)"/>
<ellipse cx="788.6" cy="810.9" rx="7.2" ry="4.3" transform="rotate(274 788.6 810.9)"/>
<ellipse cx="794.7" cy="814.4" rx="7.2" ry="4.3" transform="rotate(326 794.7 814.4)"/>
<circle cx="788" cy="819" r="7.2"/></g>
<g fill="#c6c6c6" opacity="0.9">
<ellipse cx="829.1" cy="817.9" rx="7.8" ry="2.6" transform="rotate(6 829.1 817.9)"/>
<ellipse cx="827.5" cy="822.1" rx="7.8" ry="2.6" transform="rotate(36 827.5 822.1)"/>
<ellipse cx="824.1" cy="824.9" rx="7.8" ry="2.6" transform="rotate(66 824.1 824.9)"/>
<ellipse cx="819.6" cy="825.6" rx="7.8" ry="2.6" transform="rotate(96 819.6 825.6)"/>
<ellipse cx="815.4" cy="824.0" rx="7.8" ry="2.6" transform="rotate(126 815.4 824.0)"/>
<ellipse cx="812.6" cy="820.6" rx="7.8" ry="2.6" transform="rotate(156 812.6 820.6)"/>
<ellipse cx="811.9" cy="816.1" rx="7.8" ry="2.6" transform="rotate(186 811.9 816.1)"/>
<ellipse cx="813.5" cy="811.9" rx="7.8" ry="2.6" transform="rotate(216 813.5 811.9)"/>
<ellipse cx="816.9" cy="809.1" rx="7.8" ry="2.6" transform="rotate(246 816.9 809.1)"/>
<ellipse cx="821.4" cy="808.4" rx="7.8" ry="2.6" transform="rotate(276 821.4 808.4)"/>
<ellipse cx="825.6" cy="810.0" rx="7.8" ry="2.6" transform="rotate(306 825.6 810.0)"/>
<ellipse cx="828.4" cy="813.4" rx="7.8" ry="2.6" transform="rotate(336 828.4 813.4)"/>
<circle cx="820.5" cy="817" r="7.8"/></g>
<g fill="#c6c6c6" opacity="0.9">
<ellipse cx="857.4" cy="820.0" rx="7.5" ry="2.6" transform="rotate(29 857.4 820.0)"/>
<ellipse cx="853.6" cy="823.6" rx="7.5" ry="2.6" transform="rotate(65 853.6 823.6)"/>
<ellipse cx="848.4" cy="824.3" rx="7.5" ry="2.6" transform="rotate(101 848.4 824.3)"/>
<ellipse cx="843.9" cy="821.8" rx="7.5" ry="2.6" transform="rotate(137 843.9 821.8)"/>
<ellipse cx="841.7" cy="817.1" rx="7.5" ry="2.6" transform="rotate(173 841.7 817.1)"/>
<ellipse cx="842.6" cy="812.0" rx="7.5" ry="2.6" transform="rotate(209 842.6 812.0)"/>
<ellipse cx="846.4" cy="808.4" rx="7.5" ry="2.6" transform="rotate(245 846.4 808.4)"/>
<ellipse cx="851.6" cy="807.7" rx="7.5" ry="2.6" transform="rotate(281 851.6 807.7)"/>
<ellipse cx="856.1" cy="810.2" rx="7.5" ry="2.6" transform="rotate(317 856.1 810.2)"/>
<ellipse cx="858.3" cy="814.9" rx="7.5" ry="2.6" transform="rotate(353 858.3 814.9)"/>
<circle cx="850" cy="816" r="7.5"/></g>
<line x1="792.0" y1="21.5" x2="1115.0" y2="21.5" stroke="#222" stroke-width="1.25" />
<line x1="792.0" y1="19.0" x2="792.0" y2="47.0" stroke="#222" stroke-width="1.25" />
<circle cx="792" cy="21.5" r="1.6"/>
<line x1="1038.0" y1="19.0" x2="1038.0" y2="47.0" stroke="#222" stroke-width="1.25" />
<circle cx="1038" cy="21.5" r="1.6"/>
<line x1="1104.5" y1="19.0" x2="1104.5" y2="47.0" stroke="#222" stroke-width="1.25" />
<circle cx="1104.5" cy="21.5" r="1.6"/>
<line x1="1109.5" y1="19.0" x2="1109.5" y2="47.0" stroke="#222" stroke-width="1.25" />
<circle cx="1109.5" cy="21.5" r="1.6"/>
<text x="915.0" y="19.3" font-size="15.5" fill="#383838" text-anchor="middle" >3597</text>
<text x="1072.0" y="19.3" font-size="15.5" fill="#383838" text-anchor="middle" >967</text>
<text x="1107.3" y="19.3" font-size="15.5" fill="#383838" text-anchor="middle" >76</text>
<line x1="640.7" y1="110.0" x2="640.7" y2="661.7" stroke="#222" stroke-width="1.25" />
<line x1="640.7" y1="661.7" x2="640.7" y2="832.3" stroke="#222" stroke-width="1.25" />
<line x1="638.5" y1="110.0" x2="666.3" y2="110.0" stroke="#222" stroke-width="1.38" />
<circle cx="640.7" cy="110" r="1.6"/>
<line x1="638.5" y1="166.7" x2="666.3" y2="166.7" stroke="#222" stroke-width="1.38" />
<circle cx="640.7" cy="166.7" r="1.6"/>
<line x1="638.5" y1="210.7" x2="666.3" y2="210.7" stroke="#222" stroke-width="1.38" />
<circle cx="640.7" cy="210.7" r="1.6"/>
<line x1="638.5" y1="217.3" x2="666.3" y2="217.3" stroke="#222" stroke-width="1.38" />
<circle cx="640.7" cy="217.3" r="1.6"/>
<line x1="638.5" y1="276.7" x2="666.3" y2="276.7" stroke="#222" stroke-width="1.38" />
<circle cx="640.7" cy="276.7" r="1.6"/>
<line x1="638.5" y1="376.0" x2="666.3" y2="376.0" stroke="#222" stroke-width="1.38" />
<circle cx="640.7" cy="376" r="1.6"/>
<line x1="638.5" y1="382.7" x2="666.3" y2="382.7" stroke="#222" stroke-width="1.38" />
<circle cx="640.7" cy="382.7" r="1.6"/>
<line x1="638.5" y1="437.3" x2="666.3" y2="437.3" stroke="#222" stroke-width="1.38" />
<circle cx="640.7" cy="437.3" r="1.6"/>
<line x1="638.5" y1="444.0" x2="666.3" y2="444.0" stroke="#222" stroke-width="1.38" />
<circle cx="640.7" cy="444" r="1.6"/>
<line x1="638.5" y1="484.3" x2="666.3" y2="484.3" stroke="#222" stroke-width="1.38" />
<circle cx="640.7" cy="484.3" r="1.6"/>
<line x1="638.5" y1="510.0" x2="666.3" y2="510.0" stroke="#222" stroke-width="1.38" />
<circle cx="640.7" cy="510" r="1.6"/>
<line x1="638.5" y1="520.0" x2="666.3" y2="520.0" stroke="#222" stroke-width="1.38" />
<circle cx="640.7" cy="520" r="1.6"/>
<line x1="638.5" y1="526.0" x2="666.3" y2="526.0" stroke="#222" stroke-width="1.38" />
<circle cx="640.7" cy="526" r="1.6"/>
<line x1="638.5" y1="661.7" x2="666.3" y2="661.7" stroke="#222" stroke-width="1.38" />
<circle cx="640.7" cy="661.7" r="1.6"/>
<line x1="638.5" y1="832.3" x2="666.3" y2="832.3" stroke="#222" stroke-width="1.38" />
<circle cx="640.7" cy="832.3" r="1.6"/>
<text x="637.3" y="138.3" font-size="15.5" fill="#383838" text-anchor="middle" transform="rotate(-90 637.3 138.3)" >834</text>
<text x="637.3" y="168.0" font-size="15.5" fill="#383838" text-anchor="middle" transform="rotate(-90 637.3 168.0)" >0</text>
<text x="637.3" y="188.5" font-size="15.5" fill="#383838" text-anchor="middle" transform="rotate(-90 637.3 188.5)" >645</text>
<text x="637.3" y="212.8" font-size="15.5" fill="#383838" text-anchor="middle" transform="rotate(-90 637.3 212.8)" >100</text>
<text x="637.3" y="246.7" font-size="15.5" fill="#383838" text-anchor="middle" transform="rotate(-90 637.3 246.7)" >860</text>
<text x="637.3" y="328.3" font-size="15.5" fill="#383838" text-anchor="middle" transform="rotate(-90 637.3 328.3)" >1456</text>
<text x="637.3" y="377.0" font-size="15.5" fill="#383838" text-anchor="middle" transform="rotate(-90 637.3 377.0)" >100</text>
<text x="637.3" y="382.0" font-size="15.5" fill="#383838" text-anchor="middle" transform="rotate(-90 637.3 382.0)" >100</text>
<text x="637.3" y="413.3" font-size="15.5" fill="#383838" text-anchor="middle" transform="rotate(-90 637.3 413.3)" >802</text>
<text x="637.3" y="438.0" font-size="15.5" fill="#383838" text-anchor="middle" transform="rotate(-90 637.3 438.0)" >100</text>
<text x="637.3" y="465.0" font-size="15.5" fill="#383838" text-anchor="middle" transform="rotate(-90 637.3 465.0)" >584</text>
<text x="637.3" y="483.0" font-size="15.5" fill="#383838" text-anchor="middle" transform="rotate(-90 637.3 483.0)" >0</text>
<text x="637.3" y="498.0" font-size="15.5" fill="#383838" text-anchor="middle" transform="rotate(-90 637.3 498.0)" >375</text>
<text x="637.3" y="513.0" font-size="15.5" fill="#383838" text-anchor="middle" transform="rotate(-90 637.3 513.0)" >100</text>
<text x="637.3" y="520.0" font-size="15.5" fill="#383838" text-anchor="middle" transform="rotate(-90 637.3 520.0)" >100</text>
<text x="637.3" y="527.0" font-size="15.5" fill="#383838" text-anchor="middle" transform="rotate(-90 637.3 527.0)" >100</text>
<text x="637.3" y="593.3" font-size="15.5" fill="#383838" text-anchor="middle" transform="rotate(-90 637.3 593.3)" >1974</text>
<text x="637.3" y="747.3" font-size="15.5" fill="#383838" text-anchor="middle" transform="rotate(-90 637.3 747.3)" >2494</text>
<line x1="1168.8" y1="107.0" x2="1168.8" y2="832.5" stroke="#222" stroke-width="1.25" />
<line x1="1143.0" y1="107.0" x2="1171.0" y2="107.0" stroke="#222" stroke-width="1.38" />
<circle cx="1168.8" cy="107" r="1.6"/>
<line x1="1143.0" y1="520.0" x2="1171.0" y2="520.0" stroke="#222" stroke-width="1.38" />
<circle cx="1168.8" cy="520" r="1.6"/>
<line x1="1143.0" y1="526.7" x2="1171.0" y2="526.7" stroke="#222" stroke-width="1.38" />
<circle cx="1168.8" cy="526.7" r="1.6"/>
<line x1="1143.0" y1="717.5" x2="1171.0" y2="717.5" stroke="#222" stroke-width="1.38" />
<circle cx="1168.8" cy="717.5" r="1.6"/>
<line x1="1143.0" y1="740.0" x2="1171.0" y2="740.0" stroke="#222" stroke-width="1.38" />
<circle cx="1168.8" cy="740" r="1.6"/>
<line x1="1143.0" y1="832.3" x2="1171.0" y2="832.3" stroke="#222" stroke-width="1.38" />
<circle cx="1168.8" cy="832.3" r="1.6"/>
<text x="1166.5" y="312.0" font-size="15.5" fill="#383838" text-anchor="middle" transform="rotate(-90 1166.5 312.0)" >6045</text>
<text x="1166.5" y="621.0" font-size="15.5" fill="#383838" text-anchor="middle" transform="rotate(-90 1166.5 621.0)" >2800</text>
<text x="1166.5" y="729.0" font-size="15.5" fill="#383838" text-anchor="middle" transform="rotate(-90 1166.5 729.0)" >306</text>
<text x="1166.5" y="785.0" font-size="15.5" fill="#383838" text-anchor="middle" transform="rotate(-90 1166.5 785.0)" >1362</text>
<line x1="695.0" y1="880.7" x2="1111.0" y2="880.7" stroke="#222" stroke-width="1.25" />
<line x1="695.0" y1="856.0" x2="695.0" y2="883.5" stroke="#222" stroke-width="1.25" />
<circle cx="695" cy="880.7" r="1.6"/>
<line x1="1109.0" y1="874.0" x2="1109.0" y2="883.5" stroke="#222" stroke-width="1.25" />
<circle cx="1109" cy="880.7" r="1.6"/>
<text x="902.5" y="878.7" font-size="15.5" fill="#383838" text-anchor="middle" >6035</text>
<path d="M1070.5 40 H1084.5 V58 H1097.5 L1077.5 80.5 L1057 58 H1070.5 Z" fill="#000" stroke="none" stroke-width="0" />
<text x="1097.5" y="72.0" font-size="11.5" fill="#111" text-anchor="start" class="sb" textLength="28.5" lengthAdjust="spacingAndGlyphs">入户门</text>
<path d="M692.7 843.3 L662.7 845 L672.3 853.7 L658.3 865.7 L668.3 875.7 L682 863 L690.7 872.3 Z" fill="#000" stroke="none" stroke-width="0" />
<text x="618.3" y="890.8" font-size="12.5" fill="#111" text-anchor="start" class="sb" textLength="48.5" lengthAdjust="spacingAndGlyphs">一层阳台门</text>
<g stroke="#fb5050" stroke-width="5.4" fill="none" stroke-linecap="round" stroke-linejoin="round">
<path d="M933.2 172.5 L934.6 232 L936.3 310 L937 460 L937.6 771.5"/>
<path d="M924.3 189.8 L933 172 L943.6 189.8"/>
<path d="M920.3 244.7 H1069"/>
<path d="M1071 119.5 V256"/>
<path d="M1061.6 238.8 L1070.8 256.8 L1081 238.8"/>
<path d="M934.5 555.8 L846 554.3"/>
<path d="M859.5 546.3 L844.3 554.3 L859.5 562.6"/>
<path d="M940 594.3 H1055"/>
<path d="M1038 584.8 L1056.8 594.3 L1038 603.8"/>
</g>
<text x="740.8" y="70.1" font-size="40.27" fill="#e10a16" text-anchor="middle" class="cn" textLength="208.4" lengthAdjust="spacingAndGlyphs">平面布置图</text>
<text x="882.0" y="194.7" font-size="29.45" fill="#e10a16" text-anchor="middle" class="cn" textLength="61.0" lengthAdjust="spacingAndGlyphs">厨房</text>
<text x="940.0" y="313.1" font-size="29.45" fill="#e10a16" text-anchor="middle" class="cn" textLength="182.9" lengthAdjust="spacingAndGlyphs">开放式客餐厅</text>
<text x="861.2" y="423.7" font-size="29.45" fill="#e10a16" text-anchor="middle" class="cn" textLength="30.5" lengthAdjust="spacingAndGlyphs">卫</text>
<text x="861.2" y="463.2" font-size="29.45" fill="#e10a16" text-anchor="middle" class="cn" textLength="30.5" lengthAdjust="spacingAndGlyphs">浴</text>
<text x="1025.4" y="431.9" font-size="30.13" fill="#e10a16" text-anchor="middle" class="cn" textLength="93.6" lengthAdjust="spacingAndGlyphs">阅读区</text>
<text x="843.0" y="660.7" font-size="29.45" fill="#e10a16" text-anchor="middle" class="cn" textLength="91.4" lengthAdjust="spacingAndGlyphs">妈妈房</text>
<text x="1040.0" y="694.9" font-size="29.74" fill="#e10a16" text-anchor="middle" class="cn" textLength="92.3" lengthAdjust="spacingAndGlyphs">孩子房</text>
<text x="965.6" y="808.5" font-size="29.25" fill="#e10a16" text-anchor="middle" class="cn" textLength="181.6" lengthAdjust="spacingAndGlyphs">爸爸的榻榻米</text>
</g>
</g>
</svg>
</body>
</html>
